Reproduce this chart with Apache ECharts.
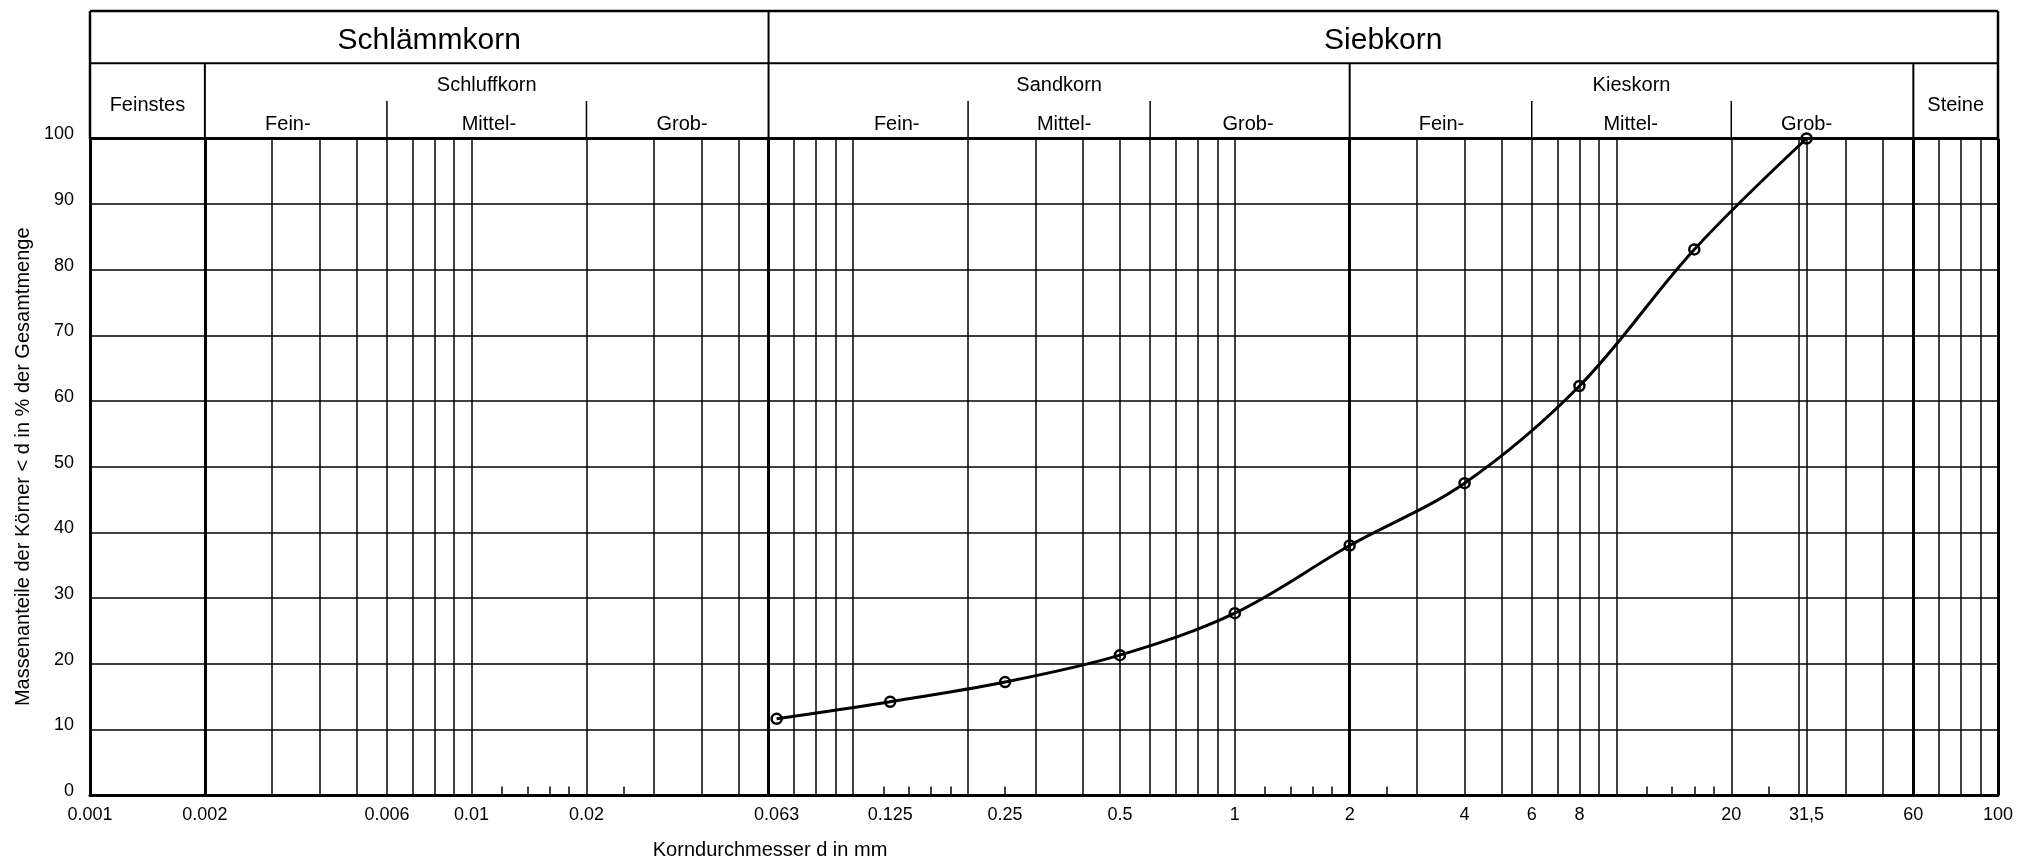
<!DOCTYPE html>
<html>
<head>
<meta charset="utf-8">
<script src="https://cdn.jsdelivr.net/npm/echarts@6/dist/echarts.min.js"></script>
<style>
html,body{margin:0;padding:0;background:#fff;}
#c{width:2018px;height:860px;}
</style>
</head>
<body>
<div id="c"></div>
<script>
// ---------- data ----------
const sieveSizes = [0.063, 0.125, 0.25, 0.5, 1, 2, 4, 8, 16, 31.5];
const passingPct = [11.6, 14.2, 17.2, 21.3, 27.7, 38.0, 47.5, 62.3, 83.1, 100];

const xTickValues = [0.001, 0.002, 0.006, 0.01, 0.02, 0.063, 0.125, 0.25, 0.5, 1, 2, 4, 6, 8, 20, 31.5, 60, 100];
const xTickLabels = ['0.001', '0.002', '0.006', '0.01', '0.02', '0.063', '0.125', '0.25', '0.5', '1', '2', '4', '6', '8', '20', '31,5', '60', '100'];
const yTickValues = [0, 10, 20, 30, 40, 50, 60, 70, 80, 90, 100];

const gridLinesThin = [0.003, 0.004, 0.005, 0.006, 0.007, 0.008, 0.009, 0.01,
  0.02, 0.03, 0.04, 0.05, 0.07, 0.08, 0.09, 0.1,
  0.2, 0.3, 0.4, 0.5, 0.6, 0.7, 0.8, 0.9, 1,
  3, 4, 5, 6, 7, 8, 9, 10,
  20, 30, 31.5, 40, 50, 70, 80, 90];
const gridLinesBold = [0.002, 0.06, 2, 60, 100];
const gridTicksShort = [0.012, 0.014, 0.016, 0.018, 0.025,
  0.12, 0.14, 0.16, 0.18, 0.25,
  1.2, 1.4, 1.6, 1.8, 2.5,
  12, 14, 16, 18, 25];

const mainGroupNames = ['Schlämmkorn', 'Siebkorn'];
const mainGroupBounds = [0.001, 0.06, 100];
const soilGroupNames = ['Feinstes', 'Schluffkorn', 'Sandkorn', 'Kieskorn', 'Steine'];
const soilGroupBounds = [0.001, 0.002, 0.06, 2, 60, 100];
const soilGroupHasSub = [false, true, true, true, false];
const subGroupDividers = [0.006, 0.02, 0.2, 0.6, 6, 20];
const subGroupNames = ['Fein-', 'Mittel-', 'Grob-', 'Fein-', 'Mittel-', 'Grob-', 'Fein-', 'Mittel-', 'Grob-'];
const subGroupAnchors = [0.0033, 0.0111, 0.0356, 0.13, 0.357, 1.083, 3.48, 10.9, 31.5];

const FONT = '"Liberation Sans", Arial, Helvetica, sans-serif';

// ---------- chart ----------
const chart = echarts.init(document.getElementById('c'), null, {renderer: 'canvas'});

const points = sieveSizes.map((d, i) => [d, passingPct[i]]);

const markData = [];
gridLinesThin.forEach(v => markData.push({xAxis: v, lineStyle: {color: '#000', width: 1.5, type: 'solid'}}));
gridLinesBold.forEach(v => markData.push({xAxis: v, lineStyle: {color: '#000', width: 3, type: 'solid'}}));
markData.push({yAxis: 100, lineStyle: {color: '#000', width: 3, type: 'solid'}});
gridTicksShort.forEach(v => markData.push([
  {coord: [v, 0], lineStyle: {color: '#000', width: 1.5, type: 'solid'}},
  {coord: [v, 1.3]}
]));

function labelFor(value) {
  for (let i = 0; i < xTickValues.length; i++) {
    if (Math.abs(xTickValues[i] - value) <= xTickValues[i] * 1e-6) return xTickLabels[i];
  }
  return '';
}

const option = {
  animation: false,
  backgroundColor: '#fff',
  grid: {left: 90, right: 20, top: 138.5, bottom: 65, containLabel: false},
  xAxis: {
    type: 'log',
    logBase: 10,
    min: 0.001,
    max: 100,
    axisLine: {show: true, lineStyle: {color: '#000', width: 3}},
    axisTick: {show: false},
    splitLine: {show: false},
    minorSplitLine: {show: false},
    axisLabel: {
      show: true,
      customValues: xTickValues,
      formatter: (v) => labelFor(v),
      color: '#000',
      fontSize: 18,
      fontFamily: FONT,
      margin: 11
    }
  },
  yAxis: {
    type: 'value',
    min: 0,
    max: 100,
    interval: 10,
    name: 'Massenanteile der Körner < d in % der Gesamtmenge',
    nameLocation: 'middle',
    nameGap: 57,
    nameTextStyle: {color: '#000', fontSize: 20, fontFamily: FONT},
    axisLine: {show: true, lineStyle: {color: '#000', width: 3}},
    axisTick: {show: false},
    splitLine: {show: true, lineStyle: {color: '#000', width: 1.5}},
    axisLabel: {
      color: '#000',
      fontSize: 18,
      fontFamily: FONT,
      margin: 16,
      verticalAlign: 'bottom',
      lineHeight: 8
    }
  },
  series: [
    {
      type: 'line',
      data: points,
      z: 1,
      silent: true,
      showSymbol: false,
      lineStyle: {opacity: 0},
      markLine: {
        silent: true,
        precision: 8,
        symbol: ['none', 'none'],
        label: {show: false},
        emphasis: {disabled: true},
        animation: false,
        data: markData
      }
    },
    {
      type: 'line',
      data: points,
      z: 5,
      smooth: 0.35,
      symbol: 'circle',
      symbolSize: 10,
      lineStyle: {color: '#000', width: 3},
      itemStyle: {color: 'rgba(255,255,255,0)', borderColor: '#000', borderWidth: 2.5}
    }
  ]
};

chart.setOption(option);

// ---------- header (positions derived from axis scale) ----------
const px = v => chart.convertToPixel({xAxisIndex: 0}, v);
const py = v => chart.convertToPixel({yAxisIndex: 0}, v);

const L = px(0.001), R = px(100), T = py(100), B = py(0);
const yTop = T - 127.5, yRow = T - 75.2, ySub = T - 37.5;

const g = [];
function line(x1, y1, x2, y2, w) {
  g.push({type: 'line', silent: true, z: 10, shape: {x1, y1, x2, y2}, style: {stroke: '#000', lineWidth: w}});
}
function text(x, y, s, size) {
  g.push({type: 'text', silent: true, z: 10, x, y,
    style: {text: s, fill: '#000', font: size + 'px ' + FONT, align: 'center', verticalAlign: 'middle'}});
}

line(L, yTop, R, yTop, 2.5);
line(L, yRow, R, yRow, 2);
line(L, yTop, L, T, 2.5);
line(R, yTop, R, T, 2.5);
for (let i = 1; i < mainGroupBounds.length - 1; i++) line(px(mainGroupBounds[i]), yTop, px(mainGroupBounds[i]), T, 2);
for (let i = 1; i < soilGroupBounds.length - 1; i++) {
  if (mainGroupBounds.indexOf(soilGroupBounds[i]) < 0) line(px(soilGroupBounds[i]), yRow, px(soilGroupBounds[i]), T, 2);
}
subGroupDividers.forEach(v => line(px(v), ySub, px(v), T, 1.5));

for (let i = 0; i < mainGroupNames.length; i++) {
  text((px(mainGroupBounds[i]) + px(mainGroupBounds[i + 1])) / 2, yTop + 29.5, mainGroupNames[i], 30);
}
for (let i = 0; i < soilGroupNames.length; i++) {
  const cx = (px(soilGroupBounds[i]) + px(soilGroupBounds[i + 1])) / 2;
  text(cx, soilGroupHasSub[i] ? T - 53.5 : T - 33.5, soilGroupNames[i], 20);
}
subGroupNames.forEach((s, i) => text(px(subGroupAnchors[i]), T - 14.5, s, 20));

// x-axis title
text(px(0.06) + 1.5, B + 55.5, 'Korndurchmesser d in mm', 20);

chart.setOption({graphic: {elements: g}});
</script>
</body>
</html>
